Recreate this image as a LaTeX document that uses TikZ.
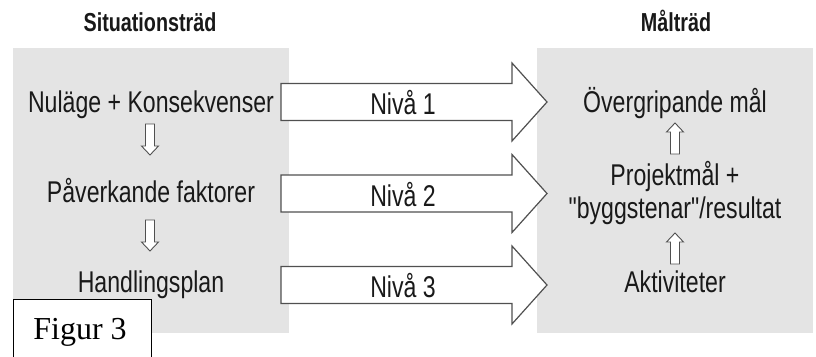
\documentclass[tikz,border=0pt]{standalone}
\usepackage{fontspec}
\newfontfamily\cond[FakeStretch=0.77]{Liberation Sans}
\newfontfamily\condb[FakeStretch=0.76,UprightFont=*-Bold]{Liberation Sans}
\newfontfamily\figfont{Liberation Serif}
\definecolor{boxgray}{RGB}{228,228,228}
\definecolor{textc}{RGB}{25,25,25}
\definecolor{arrc}{RGB}{80,80,80}
\begin{document}
\begin{tikzpicture}[x=1pt,y=-1pt,
  txt/.style={font=\cond\fontsize{30}{32}\selectfont, text=textc, inner sep=0pt, anchor=base},
  ttl/.style={font=\condb\fontsize{26}{28}\selectfont, text=textc, inner sep=0pt, anchor=base},
  panel/.style={fill=boxgray, inner sep=0pt, anchor=north west, minimum width=276pt, minimum height=285pt},
  bigarrow/.pic={\draw[draw=arrc, line width=1.2pt, fill=white, line join=miter]
     (0,-18.5) -- (231,-18.5) -- (231,-39) -- (266,0) -- (231,39) -- (231,18.5) -- (0,18.5) -- cycle;},
  smallarrow/.pic={\draw[draw=arrc, line width=0.9pt, fill=white]
     (-4.5,0) -- (-4.5,22) -- (-8.5,22) -- (0,31) -- (8.5,22) -- (4.5,22) -- (4.5,0) -- cycle;}
]
\useasboundingbox (0,0) rectangle (816,356);
\fill[white] (0,0) rectangle (816,356);
% panels
\node[panel] (sitbox) at (13,48) {};
\node[panel] (malbox) at (537,48) {};
% titles
\node[ttl] (sittitle) at (150,31) {Situationsträd};
\node[ttl] (maltitle) at (676,31) {Målträd};
% big arrows
\pic at (281,102) {bigarrow};
\pic at (281,193.5) {bigarrow};
\pic at (281,285) {bigarrow};
\node[txt] (n1) at (403,114) {Nivå 1};
\node[txt] (n2) at (403,206) {Nivå 2};
\node[txt] (n3) at (403,297) {Nivå 3};
% left texts
\node[txt] (nul) at (151,112) {Nuläge + Konsekvenser};
\node[txt] (pav) at (151,202) {Påverkande faktorer};
\node[txt] (han) at (151,292) {Handlingsplan};
\pic at (150,124) {smallarrow};
\pic at (150,220) {smallarrow};
% right texts
\node[txt] (ovr) at (675,112) {Övergripande mål};
\node[txt] (proj) at (675,185) {Projektmål +};
\node[txt] (bygg) at (675,218) {"byggstenar"/resultat};
\node[txt] (akt) at (675,292) {Aktiviteter};
\pic[yscale=-1] at (675,154) {smallarrow};
\pic[yscale=-1] at (675,264) {smallarrow};
% figure label
\node[draw=black, line width=1.2pt, fill=white, anchor=north west, inner sep=0pt,
      minimum width=138pt, minimum height=64pt] (figbox) at (13,299) {};
\node[font=\figfont\fontsize{32}{34}\selectfont, inner sep=0pt, anchor=base] (figtxt) at (80,339) {Figur 3};
\end{tikzpicture}
\end{document}
